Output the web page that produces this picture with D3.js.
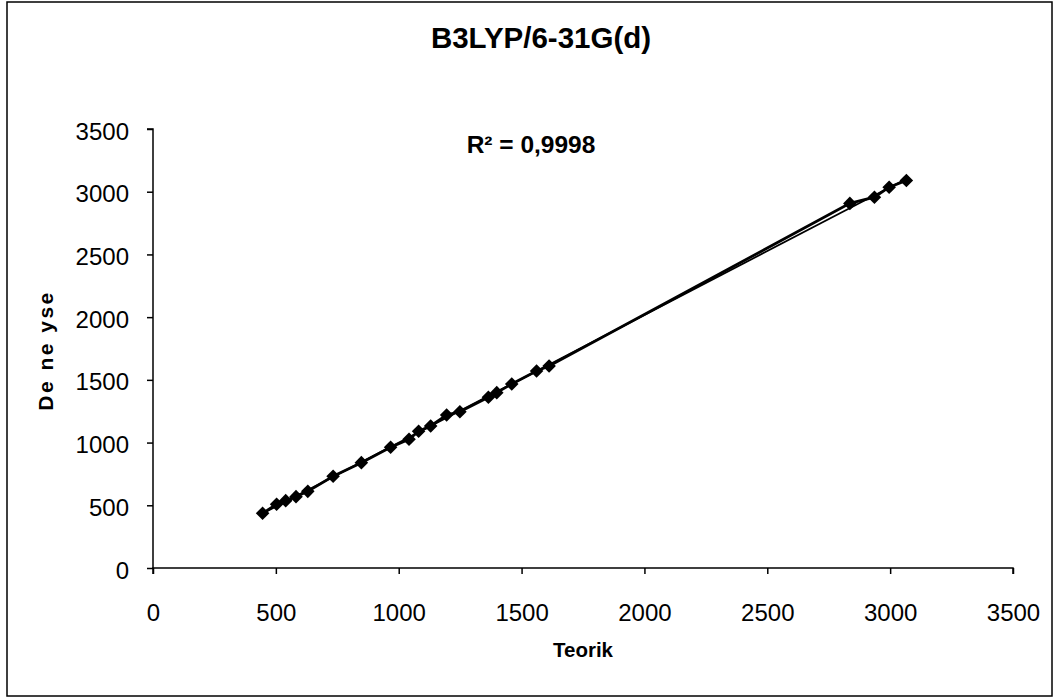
<!DOCTYPE html>
<html>
<head>
<meta charset="utf-8">
<script src="https://cdn.jsdelivr.net/npm/d3@7"></script>
<style>
  html, body { margin: 0; padding: 0; background: #fff; }
  svg { display: block; }
  text { font-family: "Liberation Sans", Arial, sans-serif; fill: #000; }
</style>
</head>
<body>
<svg id="chart" width="1059" height="699"></svg>
<script>
// Calculated (B3LYP/6-31G(d)) vs. experimental wavenumbers, cm-1
const teorik = [446, 503, 540, 582, 630, 733, 848, 967, 1042, 1081, 1130, 1195, 1249,
                1365, 1399, 1460, 1561, 1612, 2836, 2936, 2996, 3066];
const deneysel = [436, 508, 537, 569, 611, 731, 840, 962, 1026, 1090, 1132, 1220, 1246,
                  1361, 1398, 1467, 1571, 1610, 2907, 2956, 3036, 3089];
const xTicks = [0, 500, 1000, 1500, 2000, 2500, 3000, 3500];
const yTicks = [0, 500, 1000, 1500, 2000, 2500, 3000, 3500];
const titleText = "B3LYP/6-31G(d)";
const xTitle = "Teorik";
const yTitle = "De ne yse";
const r2Label = "R² = 0,9998";

const points = teorik.map((t, i) => ({ x: t, y: deneysel[i] }));

const svg = d3.select("#chart");
const plot = { left: 153, right: 1013, top: 129, bottom: 568 };

const x = d3.scaleLinear().domain([0, 3500]).range([plot.left, plot.right]);
const y = d3.scaleLinear().domain([0, 3500]).range([plot.bottom, plot.top]);

// outer frame
svg.append("rect")
  .attr("x", 7).attr("y", 2).attr("width", 1045).attr("height", 694)
  .attr("fill", "#fff").attr("stroke", "#000").attr("stroke-width", 1.5);

// title
svg.append("text")
  .attr("x", 541).attr("y", 48)
  .attr("text-anchor", "middle")
  .style("font-size", "29.5px").style("font-weight", "bold")
  .text(titleText);

// axes
const xAxis = d3.axisBottom(x).tickValues(xTicks).tickSize(6).tickPadding(30).tickFormat(d3.format("d"));
const yAxis = d3.axisLeft(y).tickValues(yTicks).tickSize(6).tickPadding(18).tickFormat(d3.format("d"));

const gx = svg.append("g").attr("transform", `translate(0,${plot.bottom})`).call(xAxis);
const gy = svg.append("g").attr("transform", `translate(${plot.left},0)`).call(yAxis);

[gx, gy].forEach(g => {
  g.select(".domain").attr("stroke", "#000").attr("stroke-width", 1.5);
  g.selectAll(".tick line").attr("stroke", "#000").attr("stroke-width", 1.5);
  g.selectAll(".tick text")
    .style("font-family", "'Liberation Sans', Arial, sans-serif")
    .style("font-size", "24px").attr("fill", "#000");
});
gy.selectAll(".tick text").attr("dy", "0.42em");
gy.select(".domain").attr("d", `M-6,${plot.top}H0V${plot.bottom}`);
gx.select(".domain").attr("d", `M${plot.left},6V0H${plot.right}V6`);

// axis titles
svg.append("text")
  .attr("x", x(1750)).attr("y", 657)
  .attr("text-anchor", "middle")
  .style("font-size", "20.5px").style("font-weight", "bold")
  .text(xTitle);

svg.append("text")
  .attr("transform", `translate(53,${y(1750) + 2}) rotate(-90)`)
  .attr("text-anchor", "middle")
  .style("font-size", "21px").style("font-weight", "bold")
  .style("letter-spacing", "2.5px")
  .text(yTitle);

// linear trendline (least squares) over the data range
const mx = d3.mean(points, d => d.x), my = d3.mean(points, d => d.y);
const sxy = d3.sum(points, d => (d.x - mx) * (d.y - my));
const sxx = d3.sum(points, d => (d.x - mx) ** 2);
const slope = sxy / sxx, intercept = my - slope * mx;
const [xmin, xmax] = d3.extent(points, d => d.x);

const line = d3.line().x(d => x(d.x)).y(d => y(d.y));

svg.append("path")
  .datum(points)
  .attr("d", line)
  .attr("fill", "none").attr("stroke", "#000").attr("stroke-width", 2.8);

svg.append("path")
  .datum([{ x: xmin, y: slope * xmin + intercept }, { x: xmax, y: slope * xmax + intercept }])
  .attr("d", line)
  .attr("fill", "none").attr("stroke", "#000").attr("stroke-width", 1.8);

// diamond markers
const diamond = d3.symbol().type(d3.symbolSquare).size(92);
svg.append("g").selectAll("path")
  .data(points)
  .join("path")
  .attr("d", diamond)
  .attr("transform", d => `translate(${x(d.x)},${y(d.y)}) rotate(45)`)
  .attr("fill", "#000");

// R² annotation
svg.append("text")
  .attr("x", 531).attr("y", 153)
  .attr("text-anchor", "middle")
  .style("font-size", "24.5px").style("font-weight", "bold")
  .text(r2Label);
</script>
</body>
</html>
